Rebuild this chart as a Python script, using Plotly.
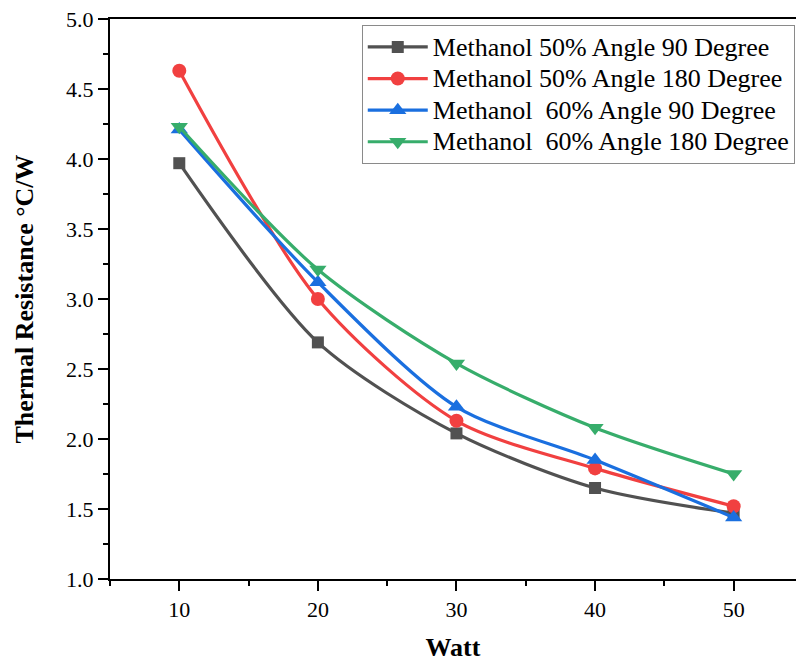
import plotly.graph_objects as go

watts = [10, 20, 30, 40, 50]
names = [
    "Methanol 50% Angle 90 Degree",
    "Methanol 50% Angle 180 Degree",
    "Methanol\u00a0 60% Angle 90 Degree",
    "Methanol\u00a0 60% Angle 180 Degree",
]
m50_90 = [3.97, 2.69, 2.04, 1.65, 1.47]
m50_180 = [4.63, 3.00, 2.13, 1.79, 1.52]
m60_90 = [4.21, 3.12, 2.23, 1.85, 1.44]
m60_180 = [4.23, 3.21, 2.54, 2.08, 1.75]
series = [m50_90, m50_180, m60_90, m60_180]
colors = ["#515151", "#F14040", "#1A6FDF", "#37AD6B"]
symbols = ["square", "circle", "triangle-up", "triangle-down"]
msizes = [12, 14, 15, 15]

font = "Liberation Serif"

fig = go.Figure()
for i, (n, ys) in enumerate(zip(names, series)):
    fig.add_trace(go.Scatter(
        x=watts, y=ys, name='<span style="font-size:26px">' + n + '</span>',
        mode="lines+markers",
        line=dict(color=colors[i], width=3.2, shape="spline", smoothing=0.8),
        marker=dict(symbol=symbols[i], size=msizes[i], color=colors[i]),
        legendgroup=str(i),
    ))

fig.update_layout(
    width=796, height=662,
    margin=dict(l=110, r=0, t=19, b=83),
    plot_bgcolor="white", paper_bgcolor="white",
    font=dict(family=font, size=22, color="black"),
    showlegend=True,
    legend=dict(
        x=0.367, y=0.989, xanchor="left", yanchor="top",
        bordercolor="#8a8a8a", borderwidth=1, bgcolor="white",
        font=dict(family=font, size=22, color="black"),
        itemwidth=60, tracegroupgap=0, traceorder="grouped",
    ),
    xaxis=dict(
        range=[5, 54.5], tickvals=[10, 20, 30, 40, 50],
        showgrid=False, zeroline=False,
        showline=True, linecolor="black", linewidth=2, mirror=True,
        ticks="outside", ticklen=10, tickwidth=2, tickcolor="black",
        minor=dict(tickvals=[5, 15, 25, 35, 45], ticks="outside", ticklen=5, tickwidth=2, tickcolor="black"),
        tickfont=dict(family=font, size=22, color="black"),
        title=dict(text="<b>Watt</b>", font=dict(family=font, size=26), standoff=19),
    ),
    yaxis=dict(
        range=[1.0, 5.0], tickvals=[1.0, 1.5, 2.0, 2.5, 3.0, 3.5, 4.0, 4.5, 5.0],
        tickformat=".1f",
        showgrid=False, zeroline=False,
        showline=True, linecolor="black", linewidth=2,
        ticks="outside", ticklen=10, tickwidth=2, tickcolor="black",
        minor=dict(tickvals=[1.25, 1.75, 2.25, 2.75, 3.25, 3.75, 4.25, 4.75], ticks="outside", ticklen=5, tickwidth=2, tickcolor="black"),
        tickfont=dict(family=font, size=22, color="black"),
        title=dict(text="<b>Thermal Resistance °C/W</b>", font=dict(family=font, size=26), standoff=25),
    ),
)

fig.write_html("out.html")
